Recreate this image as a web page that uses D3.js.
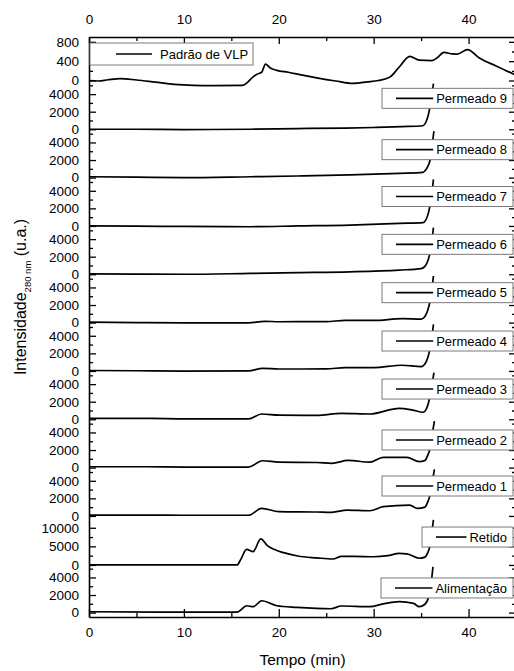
<!DOCTYPE html>
<html><head><meta charset="utf-8">
<script src="https://cdn.jsdelivr.net/npm/d3@7"></script>
<style>
body{margin:0;background:#fff}
svg{display:block}
text{font-family:"Liberation Sans",Arial,Helvetica,sans-serif;fill:#000}
</style>
</head><body>
<svg id="c" width="514" height="671"></svg>
<script>
// ---------- DATA ----------
const seriesNames = ["Padrão de VLP","Permeado 9","Permeado 8","Permeado 7","Permeado 6","Permeado 5",
  "Permeado 4","Permeado 3","Permeado 2","Permeado 1","Retido","Alimentação"];

const padrao = [[0,0],[1,-10],[2,15],[3.3,40],[5,10],[7,-35],[9,-80],[11,-100],[13,-105],[16.2,-100],
  [16.7,-40],[17.2,60],[17.7,130],[18.2,170],[18.6,340],[19.1,260],[19.8,210],[21,170],[22.5,110],[24,55],
  [26,-10],[27.8,-60],[29.3,-30],[30.5,0],[31.7,70],[32.7,280],[33.8,500],[34.8,420],[36.1,410],[36.7,470],
  [37.4,580],[38.3,550],[38.8,545],[39.9,640],[41.1,470],[42.9,300],[45,110]];
const perm9 = [[0,0],[5,0],[10,-30],[17,0],[22,80],[27,130],[30,200],[33,300],[35.2,400],[35.5,800],
  [35.75,1600],[35.95,2600],[36.15,4000],[36.3,5200]];
const perm8 = [[0,100],[5,50],[10,0],[17,100],[22,180],[27.5,300],[32.7,490],[35.2,600],[35.5,900],
  [35.7,1250],[35.9,1800],[36.05,2600],[36.2,4000],[36.35,5300]];
const perm7 = [[0,0],[5,-20],[10,-60],[17,-90],[22,0],[27.5,100],[32.7,300],[35.2,380],[35.5,700],
  [35.75,1400],[35.95,2400],[36.15,3900],[36.3,5300]];
const perm6 = [[0,50],[5,20],[10,0],[17,100],[22,180],[27.5,280],[32.7,480],[35,650],[35.4,900],
  [35.7,1500],[35.95,2500],[36.15,3900],[36.3,5300]];
const perm5 = [[0,50],[5,0],[10,-30],[16.8,-20],[18.5,150],[20,100],[25,120],[27,250],[30,250],[33,450],
  [35,400],[35.4,700],[35.7,1400],[35.95,2500],[36.15,3900],[36.3,5300]];
const perm4 = [[0,50],[5,20],[10,-20],[16.8,0],[18.3,300],[20,220],[25,230],[27,380],[30,380],[33,650],
  [35,500],[35.4,800],[35.7,1500],[35.95,2600],[36.15,4000],[36.3,5300]];
const perm3 = [[0,100],[6.4,100],[10,50],[16.8,50],[18.2,600],[20,480],[24,450],[26.6,680],[29.6,600],
  [32.7,1250],[34.1,1050],[35.2,800],[35.6,1300],[35.85,2200],[36.05,3300],[36.2,4300],[36.35,5300]];
const perm2 = [[0,100],[6,100],[10,60],[16.8,60],[18.3,780],[20,620],[24,580],[25.6,490],[27.3,820],
  [29.6,620],[31,1170],[33.5,1170],[34.8,670],[35.4,800],[35.7,1400],[35.9,2000],[36.1,3200],[36.25,4300],[36.4,5300]];
const perm1 = [[0,100],[6,100],[10,80],[16.8,80],[18.2,860],[20,500],[24,450],[25.6,410],[27.2,670],
  [29.6,590],[31,1050],[33.8,1240],[34.6,860],[35.4,1000],[35.7,1600],[35.9,2200],[36.1,3200],[36.25,4300],[36.4,5300]];
const retido = [[0,0],[10,0],[15.6,0],[16,1500],[16.6,4200],[17.3,3600],[18.1,7000],[18.8,5200],[19.5,4200],
  [20.5,3300],[22,2400],[24,1900],[25.7,1600],[26.6,2300],[28,2300],[30,2200],[31.5,2500],[32.7,3100],
  [33.5,3000],[34.8,1800],[35.4,2100],[35.7,3300],[35.9,4800],[36.2,10200],[36.3,12100]];
const alim = [[0,100],[10,50],[15.6,50],[16.1,400],[16.6,780],[17.3,670],[18.2,1350],[19.8,780],[21.9,600],
  [25.5,440],[26.6,750],[29.6,670],[31,1000],[32.7,1250],[34.2,1050],[34.8,670],[35.4,950],[35.8,1800],
  [36.05,3300],[36.25,5200]];
const seriesData = [padrao,perm9,perm8,perm7,perm6,perm5,perm4,perm3,perm2,perm1,retido,alim];

const yDomains = [[-100,900],[-500,5000],[-500,5000],[-500,5000],[-500,5000],[-500,5000],
  [-500,5000],[-500,5000],[-500,5000],[-500,5000],[-1000,12000],[-500,5000]];
const yMajorTicks = [[0,400,800],[0,2000,4000],[0,2000,4000],[0,2000,4000],[0,2000,4000],[0,2000,4000],
  [0,2000,4000],[0,2000,4000],[0,2000,4000],[0,2000,4000],[0,5000,10000],[0,2000,4000]];
const yMinorTicks = [[200,600],[1000,3000,5000],[1000,3000,5000],[1000,3000,5000],[1000,3000,5000],
  [1000,3000,5000],[1000,3000,5000],[1000,3000,5000],[1000,3000,5000],[1000,3000,5000],[2500,7500],[1000,3000,5000]];
const xDomain = [0,45];
const xMajorTicks = [0,10,20,30,40];
const xMinorTicks = [5,15,25,35,45];

// ---------- LAYOUT ----------
const L = 89, R = 516, T = 37, B = 617;
const nP = seriesNames.length, ph = (B - T) / nP;
const legendLeft = [90,382,382,382,382,382,382,382,382,382,422,381];
const legendDy = [6,3,6,4.5,4,4,4,3.7,6.3,4,6.7,9.3];

const svg = d3.select("#c");
const x = d3.scaleLinear().domain(xDomain).range([L, R]);

// top axis
const gTop = svg.append("g").attr("transform", `translate(0,${T})`);
gTop.call(d3.axisTop(x).tickValues(xMajorTicks).tickSizeInner(-7).tickSizeOuter(0).tickPadding(13).tickFormat(d3.format("d")));
gTop.append("g").call(d3.axisTop(x).tickValues(xMinorTicks).tickSize(-4).tickFormat("")).select(".domain").remove();
// bottom axis
const gBot = svg.append("g").attr("transform", `translate(0,${B})`);
gBot.call(d3.axisBottom(x).tickValues(xMajorTicks).tickSizeInner(-8).tickSizeOuter(0).tickPadding(10.5).tickFormat(d3.format("d")));
gBot.append("g").call(d3.axisBottom(x).tickValues(xMinorTicks).tickSize(-4).tickFormat("")).select(".domain").remove();

const yScales = seriesNames.map((n, i) =>
  d3.scaleLinear().domain(yDomains[i]).range([T + (i + 1) * ph, T + i * ph]));

yScales.forEach((y, i) => {
  const gl = svg.append("g").attr("transform", `translate(${L},0)`);
  gl.call(d3.axisLeft(y).tickValues(yMajorTicks[i]).tickSizeInner(-7).tickSizeOuter(0).tickPadding(10).tickFormat(d3.format("d")));
  gl.append("g").call(d3.axisLeft(y).tickValues(yMinorTicks[i]).tickSize(-4).tickFormat("")).select(".domain").remove();
  const gr = svg.append("g").attr("transform", `translate(${R},0)`);
  gr.call(d3.axisRight(y).tickValues(yMajorTicks[i]).tickSizeInner(-7).tickSizeOuter(0).tickFormat(""));
  gr.append("g").call(d3.axisRight(y).tickValues(yMinorTicks[i]).tickSize(-4).tickFormat("")).select(".domain").remove();
});

svg.selectAll(".tick text").attr("font-size", "13.5px").attr("font-family", '"Liberation Sans",Arial,sans-serif');
svg.selectAll(".domain").attr("stroke-width", 1.6);
svg.selectAll(".tick line").attr("stroke-width", 1.3);

// lines
const gLines = svg.append("g");
seriesData.forEach((data, i) => {
  const y = yScales[i];
  const line = d3.line().x(d => x(d[0])).y(d => y(d[1])).curve(d3.curveMonotoneX);
  gLines.append("path").datum(data).attr("d", line)
    .attr("fill", "none").attr("stroke", "#000").attr("stroke-width", 1.7).attr("stroke-linejoin", "round");
});

// legends
const gLeg = svg.append("g");
seriesNames.forEach((name, i) => {
  const top = T + i * ph + legendDy[i];
  const g = gLeg.append("g");
  const rect = g.append("rect").attr("fill", "#fff").attr("stroke", "#7a7a7a").attr("stroke-width", 1);
  const txt = g.append("text").text(name).attr("font-size", "13px");
  const tw = txt.node().getComputedTextLength();
  if (i === 0) {
    const bx = legendLeft[0], bh = 22;
    rect.attr("x", bx).attr("y", top).attr("width", 163).attr("height", bh);
    const cy = top + bh / 2;
    g.append("line").attr("x1", bx + 26).attr("x2", bx + 62).attr("y1", cy).attr("y2", cy)
      .attr("stroke", "#000").attr("stroke-width", 1.6);
    txt.attr("x", bx + 70).attr("y", cy + 4.6);
  } else {
    const right = 513, bh = 20, bx = legendLeft[i];
    rect.attr("x", bx).attr("y", top).attr("width", right - bx).attr("height", bh);
    const cy = top + bh / 2;
    const tx = right - 6 - tw;
    g.append("line").attr("x1", bx + 14).attr("x2", tx - 3).attr("y1", cy).attr("y2", cy)
      .attr("stroke", "#000").attr("stroke-width", 1.6);
    txt.attr("x", tx).attr("y", cy + 4.6);
  }
});

// axis titles
svg.append("text").attr("x", (L + R) / 2).attr("y", 665).attr("text-anchor", "middle")
  .attr("font-size", "15.5px").text("Tempo (min)");
const yt = svg.append("text").attr("transform", `translate(26,297) rotate(-90)`)
  .attr("text-anchor", "middle").attr("font-size", "16px");
yt.append("tspan").text("Intensidade");
yt.append("tspan").attr("font-size", "9.5px").attr("dy", 4.5).text("280 nm");
yt.append("tspan").attr("dy", -4.5).text(" (u.a.)");
</script>
</body></html>
